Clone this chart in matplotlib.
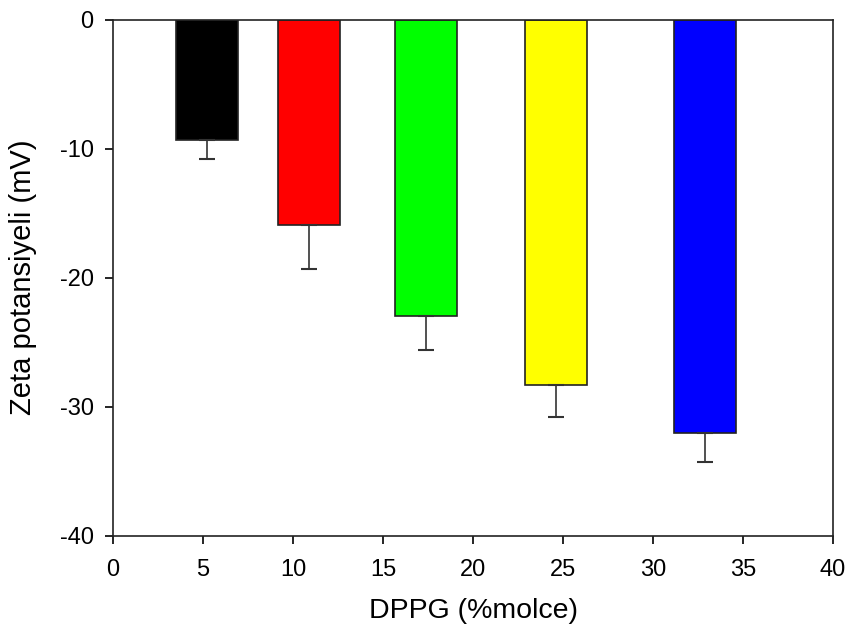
import matplotlib.pyplot as plt

plt.rcParams['font.family'] = ['Liberation Sans', 'DejaVu Sans']
plt.rcParams['axes.unicode_minus'] = False

dppg = [5.2, 10.9, 17.4, 24.6, 32.9]
zeta = [-9.3, -15.9, -23.0, -28.3, -32.0]
err = [1.5, 3.4, 2.6, 2.5, 2.3]
colors = ['black', 'red', '#00ff00', 'yellow', 'blue']

fig = plt.figure(figsize=(8.5, 6.34), dpi=100)
ax = fig.add_axes([0.133, 0.155, 0.847, 0.814])

ax.bar(dppg, zeta, width=3.45, color=colors, edgecolor='#222222', linewidth=1.2)
ax.errorbar(dppg, zeta, yerr=[err, [0] * len(err)], fmt='none',
            ecolor='#333333', elinewidth=1.2, capsize=6, capthick=1.5)

ax.set_xlim(0, 40)
ax.set_ylim(-40, 0)
ax.set_xticks(range(0, 41, 5))
ax.set_yticks(range(-40, 1, 10))
ax.tick_params(labelsize=17, length=6, width=1.2, direction='out', pad=8)
ax.tick_params(axis='x', pad=11)
for s in ax.spines.values():
    s.set_linewidth(1.2)
    s.set_color('#222222')

ax.set_xlabel("DPPG (%molce)", fontsize=20.5, labelpad=12)
ax.set_ylabel("Zeta potansiyeli (mV)", fontsize=21, labelpad=16)

fig.savefig("out.png", dpi=100)
